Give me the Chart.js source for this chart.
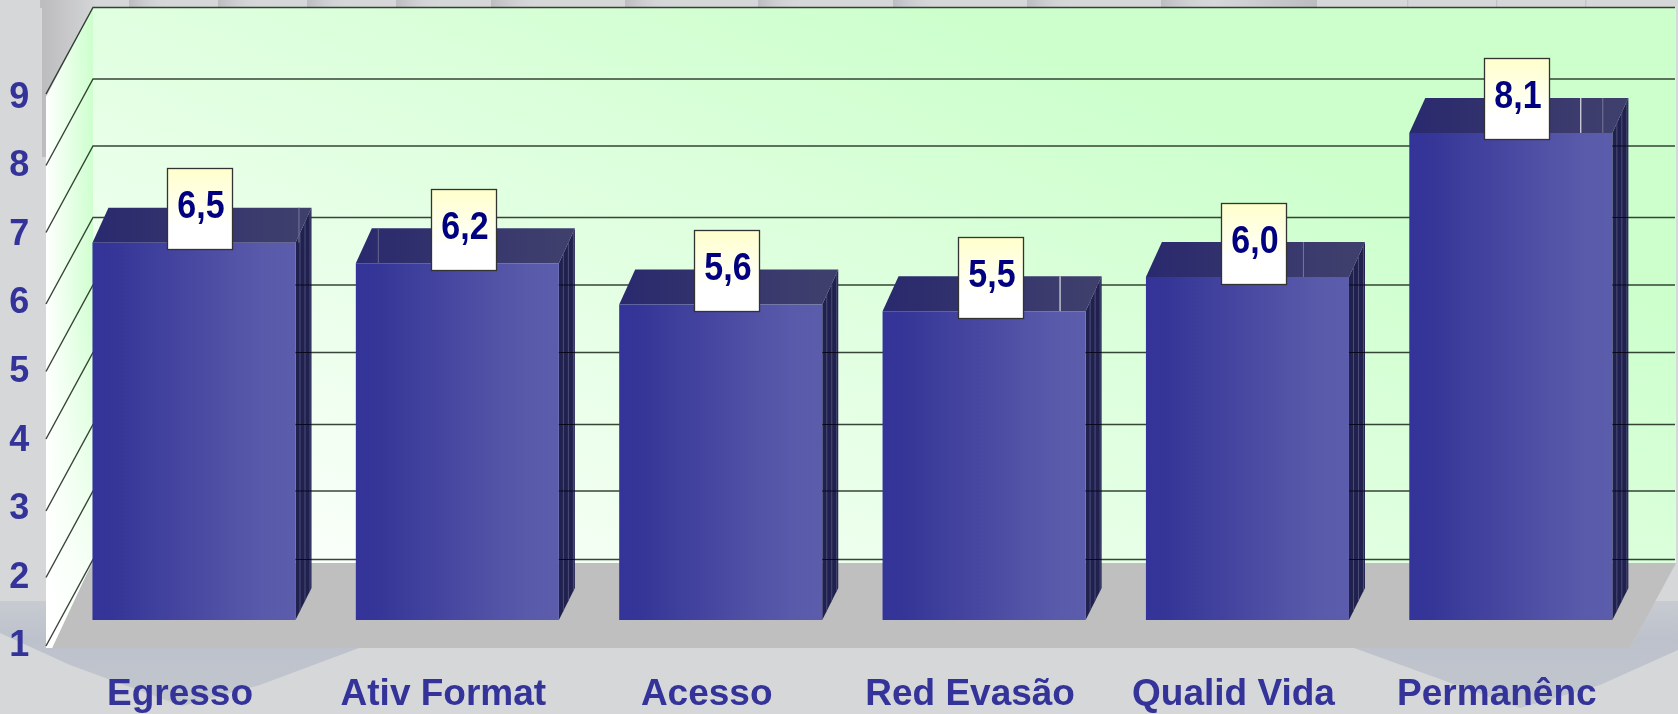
<!DOCTYPE html>
<html><head><meta charset="utf-8">
<style>html,body{margin:0;padding:0;background:#d6d7d9;overflow:hidden}canvas{display:block}</style>
<script src="https://cdn.jsdelivr.net/npm/chart.js@4/dist/chart.umd.min.js"></script>
</head><body><canvas id="c" width="1678" height="714"></canvas>
<script>
const categories = ["Egresso","Ativ Format","Acesso","Red Evasão","Qualid Vida","Permanênc"];
const values = [6.5,6.2,5.6,5.5,6.0,8.1];
const valueLabels = ["6,5","6,2","5,6","5,5","6,0","8,1"];
const axisMin = 1, axisMax = 9;

// 3D look (styling only)
const DEPTH_X = 16, DEPTH_Y = 35;      // bar extrusion
const BACK_Y1 = 559.5, BACK_SCALE = 69/68.6, BACK_X = 93, WALL_RIGHT = 1676;
const FRONT_X = 46;
const FLOOR_FRONT = 648, FLOOR_BACK = 563, FLOOR_RIGHT_FRONT = 1630;
const gridNudge = [0,0.5,3,0,1.5,3,0.5,2.5,0];
const topTiles = [[40,75],[129,170],[218,260],[307,350],[396,440],[491,540],[625,670],[758,800],[893,940],[1027,1075],[1161,1217],[1407,1407],[1496,1496],[1585,1585]];
const topFaceMarks = [[0,206,'#77779a'],[1,22,'#66668f'],[3,177,'#ffffff'],[4,157,'#77779a'],[5,171,'#ffffff'],[5,193,'#77779a']];

const C = '#333399';
function poly(ctx, pts, fill){
  ctx.beginPath(); pts.forEach((p,i)=> i?ctx.lineTo(p[0],p[1]):ctx.moveTo(p[0],p[1])); ctx.closePath();
  if(fill){ctx.fillStyle=fill;ctx.fill();}
}
function backY(y,v){ return BACK_Y1-(y.getPixelForValue(axisMin)-y.getPixelForValue(v))*BACK_SCALE+(gridNudge[v-axisMin]||0); }
const scene = {
  id:'scene',
  beforeDraw(chart){
    const {ctx, scales:{y}} = chart;
    ctx.save();
    ctx.fillStyle='#d6d7d9'; ctx.fillRect(0,0,1678,714);
    let g;
    topTiles.forEach(([a,b])=>{
      const w = Math.max(b-a,3);
      g=ctx.createLinearGradient(a,0,a+w,0); g.addColorStop(0,'#bcbcc1'); g.addColorStop(1,'rgba(214,215,217,0)');
      ctx.fillStyle=g; ctx.fillRect(a,0,w,8);
    });
    g=ctx.createLinearGradient(1217,0,1317,0); g.addColorStop(0,'rgba(190,190,195,0)'); g.addColorStop(1,'#bcbcc1');
    ctx.fillStyle=g; ctx.fillRect(1217,0,100,8);
    g=ctx.createLinearGradient(42,0,95,0); g.addColorStop(0,'#bcbcbf'); g.addColorStop(1,'#d4d5d7');
    ctx.fillStyle=g; ctx.fillRect(42,0,53,157);
    g=ctx.createLinearGradient(0,600,0,700); g.addColorStop(0,'#c8cbd1'); g.addColorStop(.4,'#bcc1cc'); g.addColorStop(1,'#c2c6cd');
    poly(ctx,[[0,601],[60,601],[60,648],[359,648],[260,685],[182,706],[70,665],[0,633]],g);
    poly(ctx,[[1354,648],[1630,648],[1655,601],[1678,601],[1678,650],[1600,685],[1520,708]],g);
    poly(ctx,[[FRONT_X,FLOOR_FRONT],[BACK_X,FLOOR_BACK],[WALL_RIGHT,FLOOR_BACK],[FLOOR_RIGHT_FRONT,FLOOR_FRONT]],'#bfbfbf');
    const top = backY(y,axisMax), bot = backY(y,axisMin);
    g=ctx.createLinearGradient(93,560,416,-222); g.addColorStop(0,'#ffffff'); g.addColorStop(1,'#ccffcc');
    ctx.fillStyle=g; ctx.fillRect(BACK_X,top,WALL_RIGHT-BACK_X,FLOOR_BACK-top);
    const ftop=top+89.5, fbot=FLOOR_FRONT;
    const lw=[[FRONT_X,ftop],[BACK_X,top],[BACK_X,bot+1],[FRONT_X+6,fbot],[FRONT_X,fbot]];
    g=ctx.createLinearGradient(FRONT_X,0,BACK_X,0); g.addColorStop(0,'#ffffff'); g.addColorStop(1,'#ccffcc');
    poly(ctx,lw,g);
    g=ctx.createLinearGradient(0,top,0,fbot); g.addColorStop(0,'rgba(255,255,255,0)'); g.addColorStop(.45,'rgba(255,255,255,.1)'); g.addColorStop(1,'rgba(255,255,255,1)');
    poly(ctx,lw,g);
    ctx.strokeStyle='rgba(25,35,25,.85)'; ctx.lineWidth=1.4;
    y.ticks.forEach(t=>{
      const by=backY(y,t.value);
      const fy=by+86.5;
      ctx.beginPath(); ctx.moveTo(FRONT_X,fy); ctx.lineTo(BACK_X,by); ctx.lineTo(WALL_RIGHT-1,by); ctx.stroke();
    });
    ctx.restore();
  },
  beforeDatasetsDraw(chart){
    const {ctx, scales:{y}} = chart;
    ctx.save();
    const meta=chart.getDatasetMeta(0);
    meta.data.forEach((b,i)=>{
      const x0=b.x-b.width/2, x1=b.x+b.width/2, t=b.y, base=b.base;
      const side=[[x1,t],[x1+DEPTH_X,t-DEPTH_Y],[x1+DEPTH_X,base-DEPTH_Y+3],[x1,base]];
      poly(ctx,side,'#21214f');
      ctx.save(); poly(ctx,side); ctx.clip();
      ctx.strokeStyle='#4d4d78'; ctx.lineWidth=1;
      [4.5,9.5,14.5].forEach(o=>{ctx.beginPath();ctx.moveTo(x1+o,t-DEPTH_Y);ctx.lineTo(x1+o,base);ctx.stroke();});
      ctx.strokeStyle='rgba(5,5,20,.9)'; ctx.lineWidth=1.2;
      y.ticks.forEach(tk=>{
        const by=backY(y,tk.value);
        if(by>t+4){ctx.beginPath();ctx.moveTo(x1,by);ctx.lineTo(x1+DEPTH_X,by);ctx.stroke();}
      });
      ctx.restore();
      const g2=ctx.createLinearGradient(x0,0,x1,0); g2.addColorStop(0,'#29296e'); g2.addColorStop(1,'#3f3f6d');
      poly(ctx,[[x0,t],[x0+DEPTH_X,t-DEPTH_Y],[x1+DEPTH_X,t-DEPTH_Y],[x1,t]],g2);
      topFaceMarks.filter(m=>m[0]===i).forEach(m=>{
        ctx.strokeStyle=m[2]; ctx.lineWidth=1;
        ctx.beginPath(); ctx.moveTo(x0+m[1]+.5,t-DEPTH_Y); ctx.lineTo(x0+m[1]+.5,t); ctx.stroke();
      });
    });
    ctx.restore();
  },
  afterDatasetsDraw(chart){
    const {ctx}=chart;
    const meta=chart.getDatasetMeta(0);
    ctx.save();
    meta.data.forEach((b,i)=>{
      const w=66,h=82, l=Math.round(b.x+6.5-w/2), tp=Math.round(b.y+7.5-h);
      const g=ctx.createLinearGradient(0,tp,0,tp+h); g.addColorStop(0,'#ffffcc'); g.addColorStop(.7,'#ffffff'); g.addColorStop(1,'#ffffff');
      ctx.fillStyle=g; ctx.fillRect(l,tp,w,h);
      ctx.strokeStyle='#333'; ctx.lineWidth=1.3; ctx.strokeRect(l+.5,tp+.5,w-1,h-1);
      ctx.save();
      ctx.translate(l+w/2+1, tp+39); ctx.scale(1,1.14);
      ctx.fillStyle='#000080'; ctx.font='bold 34px "Liberation Sans"'; ctx.textAlign='center'; ctx.textBaseline='middle';
      ctx.fillText(valueLabels[i],0,0);
      ctx.restore();
    });
    ctx.restore();
  }
};
new Chart(document.getElementById('c'),{
  type:'bar',
  data:{labels:categories,datasets:[{
    data:values,
    base:axisMin,
    barPercentage:1,categoryPercentage:0.771,
    backgroundColor(c){
      const s=c.chart.scales.x;
      if(!s||!c.chart.chartArea||c.dataIndex===undefined) return '#333399';
      const cx=s.getPixelForValue(c.dataIndex), hw=s.width/categories.length*0.771/2;
      if(!isFinite(cx)) return '#333399';
      const g=c.chart.ctx.createLinearGradient(cx-hw,0,cx+hw,0);
      g.addColorStop(0,'#333399'); g.addColorStop(.12,'#363698'); g.addColorStop(.85,'#5a5aab'); g.addColorStop(1,'#5c5cad');
      return g;
    },
    borderWidth:0
  }]},
  plugins:[scene],
  options:{
    responsive:false,animation:false,
    layout:{padding:{left:0,right:35.5,top:71.2,bottom:0}},
    plugins:{legend:{display:false},tooltip:{enabled:false},title:{display:false}},
    scales:{
      x:{
        grid:{display:false,drawTicks:false},border:{display:false},
        afterFit(s){s.height=94;},
        ticks:{color:C,padding:53,labelOffset:-14,maxRotation:0,autoSkip:false,font:{family:'"Liberation Sans"',size:37,weight:'bold'}}
      },
      y:{
        min:axisMin,max:axisMax,
        grid:{display:false,drawTicks:false},border:{display:false},
        afterFit(s){s.width=62.3;},
        ticks:{color:C,stepSize:1,padding:33,labelOffset:26.5,font:{family:'"Liberation Sans"',size:36,weight:'bold'}}
      }
    }
  }
});
</script></body></html>
